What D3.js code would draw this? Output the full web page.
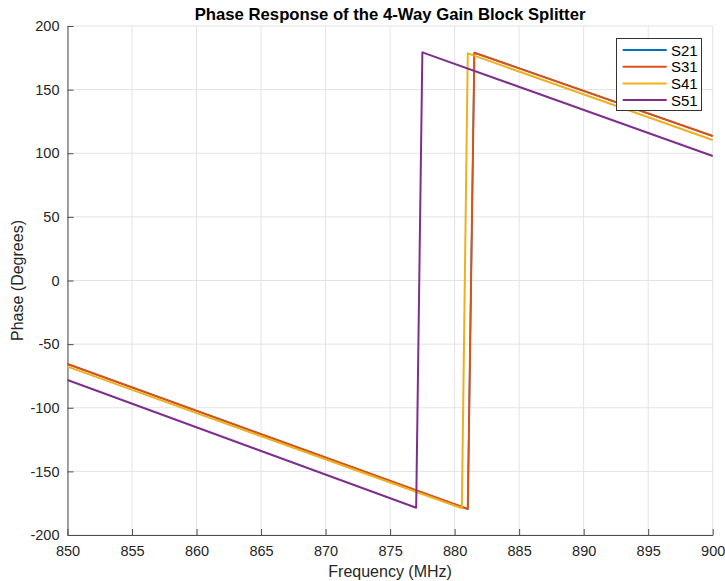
<!DOCTYPE html>
<html>
<head>
<meta charset="utf-8">
<script src="https://cdn.jsdelivr.net/npm/d3@7"></script>
<style>
  body { margin: 0; background: #fff; }
  text { font-family: "Liberation Sans", Arial, Helvetica, sans-serif; }
</style>
</head>
<body>
<div id="chart"></div>
<script>
// vertices: [frequency MHz, phase deg]
var s21 = [[850, -65.6], [881.02, -179.6], [881.53, 179.0], [900, 113.6]]
var s31 = [[850, -65.6], [881.02, -179.6], [881.53, 179.0], [900, 113.6]]
var s41 = [[850, -67.7], [880.56, -179.0], [881.02, 178.5], [900, 110.4]]
var s51 = [[850, -78.2], [877.02, -178.6], [877.50, 179.3], [900, 97.8]]
var seriesNames = ['S21', 'S31', 'S41', 'S51']
var seriesColors = ['#0072BD', '#D95319', '#EDB120', '#7E2F8E']
var xTicks = [850, 855, 860, 865, 870, 875, 880, 885, 890, 895, 900]
var yTicks = [-200, -150, -100, -50, 0, 50, 100, 150, 200]

var width = 725, height = 581
// plot box (window.top is read-only, so no bare "top")
var plotLeft = 67.5, plotRight = 712.7, plotTop = 26, plotBottom = 535

var svg = d3.select('#chart').append('svg')
  .attr('width', width)
  .attr('height', height)

var x = d3.scaleLinear().domain([850, 900]).range([plotLeft, plotRight])
var y = d3.scaleLinear().domain([-200, 200]).range([plotBottom, plotTop])

// grid
svg.append('g').selectAll('line').data(xTicks).enter().append('line')
  .attr('x1', d => x(d)).attr('x2', d => x(d))
  .attr('y1', plotTop).attr('y2', plotBottom)
  .attr('stroke', '#e3e3e3').attr('stroke-width', 1)
svg.append('g').selectAll('line').data(yTicks).enter().append('line')
  .attr('x1', plotLeft).attr('x2', plotRight)
  .attr('y1', d => y(d)).attr('y2', d => y(d))
  .attr('stroke', '#e3e3e3').attr('stroke-width', 1)

// axes, ticks pointing inward like matlab; plain hyphen for negatives
var plain = d => String(d)
var xAxis = svg.append('g')
  .attr('transform', 'translate(0,' + plotBottom + ')')
  .call(d3.axisBottom(x).tickValues(xTicks).tickFormat(plain).tickSizeInner(-6).tickSizeOuter(0).tickPadding(11))
var yAxis = svg.append('g')
  .attr('transform', 'translate(' + plotLeft + ',0)')
  .call(d3.axisLeft(y).tickValues(yTicks).tickFormat(plain).tickSizeInner(-6).tickSizeOuter(0).tickPadding(8))
;[xAxis, yAxis].forEach(function (g) {
  g.select('.domain').attr('stroke', '#4d4d4d')
  g.selectAll('.tick line').attr('stroke', '#4d4d4d')
  g.selectAll('.tick text').attr('fill', '#262626')
    .style('font-size', '14.5px')
    .style('font-family', '"Liberation Sans", Arial, sans-serif')
})

// lines
var line = d3.line().x(d => x(d[0])).y(d => y(d[1]))
var data = [s21, s31, s41, s51]
svg.append('g').selectAll('path').data(data).enter().append('path')
  .attr('d', line)
  .attr('fill', 'none')
  .attr('stroke', (d, i) => seriesColors[i])
  .attr('stroke-width', (d, i) => i === 0 ? 1.6 : 2)
  .attr('stroke-linejoin', 'round')

// title and labels
svg.append('text')
  .attr('x', (plotLeft + plotRight) / 2).attr('y', 20)
  .attr('text-anchor', 'middle')
  .style('font-size', '16.7px').style('font-weight', 'bold')
  .text('Phase Response of the 4-Way Gain Block Splitter')
svg.append('text')
  .attr('x', (plotLeft + plotRight) / 2).attr('y', 577)
  .attr('text-anchor', 'middle')
  .attr('fill', '#262626')
  .style('font-size', '16px')
  .text('Frequency (MHz)')
svg.append('text')
  .attr('transform', 'translate(23,' + (plotTop + plotBottom) / 2 + ') rotate(-90)')
  .attr('text-anchor', 'middle')
  .attr('fill', '#262626')
  .style('font-size', '16px')
  .text('Phase (Degrees)')

// legend
var legend = svg.append('g')
legend.append('rect')
  .attr('x', 616.5).attr('y', 38.5)
  .attr('width', 85).attr('height', 72)
  .attr('fill', '#fff').attr('stroke', '#333').attr('stroke-width', 1)
seriesNames.forEach(function (name, i) {
  var yy = 50 + i * 16.7
  legend.append('line')
    .attr('x1', 622.7).attr('x2', 666.7)
    .attr('y1', yy).attr('y2', yy)
    .attr('stroke', seriesColors[i]).attr('stroke-width', 2)
  legend.append('text')
    .attr('x', 671).attr('y', yy + 5.5)
    .attr('fill', '#000')
    .style('font-size', '15px')
    .text(name)
})
</script>
</body>
</html>
